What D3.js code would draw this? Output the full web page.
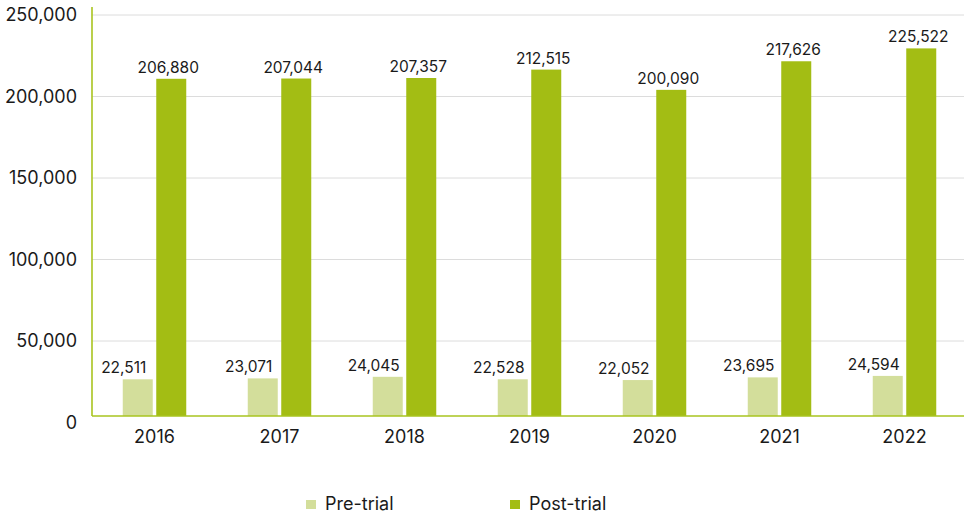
<!DOCTYPE html>
<html>
<head>
<meta charset="utf-8">
<script src="https://cdn.jsdelivr.net/npm/d3@7"></script>
<style>
html,body{margin:0;padding:0;background:#fff;}
svg{display:block;font-family:Inter,"Noto Sans",sans-serif;}
</style>
</head>
<body>
<svg id="chart" width="964" height="513"></svg>
<script>
const years = ["2016","2017","2018","2019","2020","2021","2022"];
const preTrial = [22511, 23071, 24045, 22528, 22052, 23695, 24594];
const postTrial = [206880, 207044, 207357, 212515, 200090, 217626, 225522];
const yTicks = [0, 50000, 100000, 150000, 200000, 250000];
const seriesNames = ["Pre-trial", "Post-trial"];
const seriesColors = ["#d3de9b", "#a3bd14"];

const svg = d3.select("#chart");
const axisColor = "#a9c41f";
const baseY = 416;      // drawn axis line
const x = d3.scaleBand().domain(years).range([92, 967]);
const y = d3.scaleLinear().domain([0, 250000]).range([422.5, 15]);
const barShift = y(0) - baseY;
const fmt = d3.format(",");

// gridlines
svg.append("g").selectAll("line")
  .data(yTicks.filter(d => d > 0))
  .join("line")
  .attr("x1", 92).attr("x2", 964)
  .attr("y1", d => y(d)).attr("y2", d => y(d))
  .attr("stroke", "#dcdcdc").attr("stroke-width", 1);

// y tick labels
svg.append("g").selectAll("text")
  .data(yTicks)
  .join("text")
  .attr("x", 77).attr("y", d => y(d))
  .attr("dy", "0.36em")
  .attr("text-anchor", "end")
  .attr("font-size", 18).attr("fill", "#1a1a1a")
  .text(d => fmt(d));

const barW = 30, gap = 3.5;
const groups = years.map((yr, i) => ({yr, pre: preTrial[i], post: postTrial[i]}));
const cx = d => x(d.yr) + x.bandwidth() / 2;

// bars
const g = svg.append("g");
g.selectAll("rect.pre").data(groups).join("rect").attr("class","pre")
  .attr("x", d => cx(d) - gap/2 - barW).attr("width", barW)
  .attr("y", d => y(d.pre) - barShift).attr("height", d => y(0) - y(d.pre))
  .attr("fill", seriesColors[0]);
g.selectAll("rect.post").data(groups).join("rect").attr("class","post")
  .attr("x", d => cx(d) + gap/2).attr("width", barW)
  .attr("y", d => y(d.post) - barShift).attr("height", d => y(0) - y(d.post))
  .attr("fill", seriesColors[1]);

// value labels
g.selectAll("text.pre").data(groups).join("text").attr("class","pre")
  .attr("x", d => cx(d) - gap/2 - barW/2 - 14)
  .attr("y", d => y(d.pre) - barShift - 6)
  .attr("text-anchor", "middle").attr("font-size", 15.5).attr("fill", "#1a1a1a")
  .text(d => fmt(d.pre));
g.selectAll("text.post").data(groups).join("text").attr("class","post")
  .attr("x", d => cx(d) + gap/2 + barW/2 - 3)
  .attr("y", d => y(d.post) - barShift - 6)
  .attr("text-anchor", "middle").attr("font-size", 15.5).attr("fill", "#1a1a1a")
  .text(d => fmt(d.post));

// axes lines
svg.append("line").attr("x1", 92).attr("x2", 964).attr("y1", baseY).attr("y2", baseY)
  .attr("stroke", axisColor).attr("stroke-width", 1.6);
svg.append("line").attr("x1", 92).attr("x2", 92).attr("y1", 7).attr("y2", baseY)
  .attr("stroke", axisColor).attr("stroke-width", 1.6);

// x labels
svg.append("g").selectAll("text").data(years).join("text")
  .attr("x", d => x(d) + x.bandwidth()/2).attr("y", 443)
  .attr("text-anchor", "middle").attr("font-size", 18).attr("fill", "#1a1a1a")
  .text(d => d);

// legend
const legX = [306, 510];
const leg = svg.append("g").selectAll("g").data(seriesNames).join("g")
  .attr("transform", (d, i) => `translate(${legX[i]},0)`);
leg.append("rect").attr("x", 0).attr("y", 500).attr("width", 10).attr("height", 9)
  .attr("fill", (d, i) => seriesColors[i]);
leg.append("text").attr("x", 19).attr("y", 509.5).attr("font-size", 18).attr("fill", "#1a1a1a")
  .text(d => d);
</script>
</body>
</html>
